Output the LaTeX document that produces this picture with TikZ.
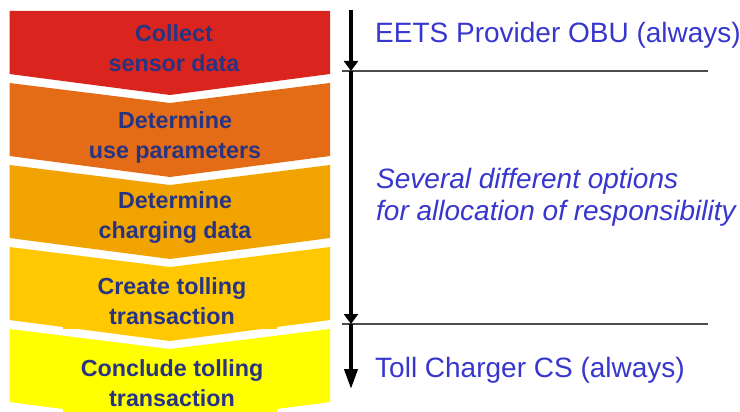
\documentclass[tikz,border=0pt]{standalone}
\usepackage{fontspec}
\setmainfont{Liberation Sans}
\usepackage{tikz}
\usetikzlibrary{arrows.meta, positioning}

\definecolor{stepred}{RGB}{217,37,29}
\definecolor{steporange}{RGB}{228,108,23}
\definecolor{stepamber}{RGB}{241,164,0}
\definecolor{stepgold}{RGB}{255,200,0}
\definecolor{stepyellow}{RGB}{255,255,0}
\definecolor{stepnavy}{RGB}{40,52,130}
\definecolor{sideblue}{RGB}{55,55,205}

\begin{document}
\begin{tikzpicture}[x=1pt, y=-1pt,
  steptext/.style={align=center, inner sep=0pt, text=stepnavy, font=\fontsize{23.3}{30}\selectfont\bfseries},
  sidetext/.style={anchor=base west, inner sep=0pt, text=sideblue, font=\fontsize{28}{32}\selectfont},
  rule/.style={draw=black!70, line width=1.3pt},
  axis/.style={line width=4pt, -{Triangle[length=10pt, width=14pt]}},
  axisend/.style={line width=4pt, -{Triangle[length=20pt, width=13pt]}}
]
\clip (0,0) rectangle (740,412);
\fill[white] (0,0) rectangle (740,412);

% Process steps (chevrons)
\fill[stepred] (9.5,11) -- (330,11) -- (330,74) -- (170,95) -- (9.5,74) -- cycle;
\foreach \t/\c in {83/steporange, 165/stepamber, 247/stepgold, 329/stepyellow}
  \fill[\c] (9.5,\t) -- (170,{\t+20}) -- (330,\t) -- (330,{\t+73}) -- (170,{\t+94}) -- (9.5,{\t+73}) -- cycle;
\fill[stepgold] (63,300) rectangle (277,329);
\fill[stepyellow] (63,380) rectangle (277,420);

\node[steptext] (collect)   at (174,48)  {Collect\\sensor data};
\node[steptext] (useparam)  at (175,137) {Determine\\use parameters};
\node[steptext] (chargdata) at (175,218) {Determine\\charging data};
\node[steptext] (create)    at (172,301) {Create tolling\\transaction};
\node[steptext] (conclude)  at (172,383) {Conclude tolling\\transaction};

% Responsibility axis
\coordinate (axtop) at (351,10);
\coordinate (axobu) at (351,71);
\coordinate (axcs)  at (351,324);
\coordinate (axend) at (351,389);
\coordinate (obuL) at (342,71);
\coordinate (obuR) at (708,71);
\coordinate (csL)  at (342,324);
\coordinate (csR)  at (708,324);

\draw[rule] (obuL) -- (obuR);
\draw[rule] (csL) -- (csR);

\draw[axis] (axtop) -- (axobu);
\draw[axis] (axobu) -- (axcs);
\draw[axisend] (axcs) -- (axend);

% Responsibilities
\node[sidetext] (obu) at (375,43) {EETS Provider OBU (always)};
\node[sidetext, anchor=west, align=left, font=\fontsize{28}{32}\selectfont\itshape] (options) at (376,197)
  {Several different options\\for allocation of responsibility};
\node[sidetext] (cs) at (375,377) {Toll Charger CS (always)};

\end{tikzpicture}
\end{document}
